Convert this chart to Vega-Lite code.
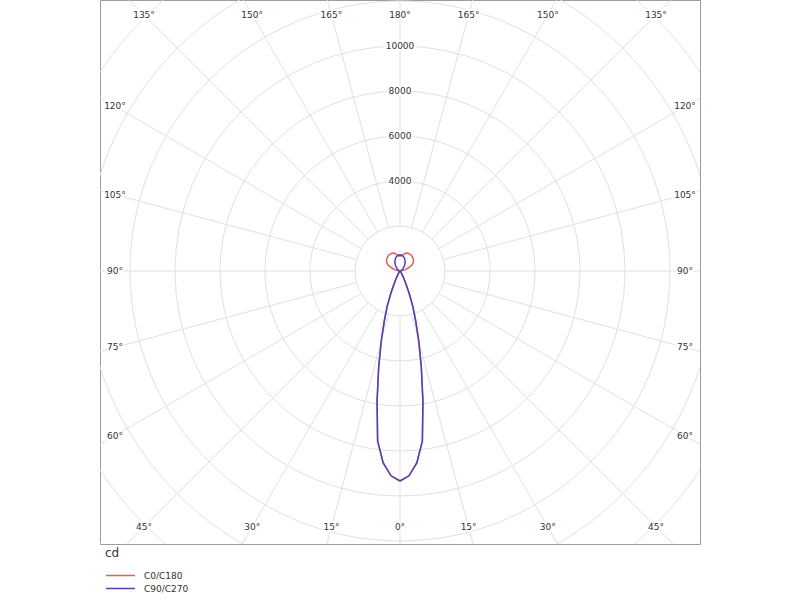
{
  "$schema": "https://vega.github.io/schema/vega-lite/v6.json",
  "width": 600,
  "height": 544,
  "autosize": "none",
  "padding": {"left": 100, "top": 0, "right": 100, "bottom": 56},
  "background": "white",
  "config": {"view": {"stroke": "#9c9c9c", "strokeWidth": 1}, "font": "DejaVu Sans"},
  "datasets": {
    "circles": [{"r": 2000}, {"r": 4000}, {"r": 6000}, {"r": 8000}, {"r": 10000}, {"r": 12000}, {"r": 14000}, {"r": 16000}, {"r": 18000}],
    "spokes": [
      {"x": 2000, "y": 0, "x2": 20000, "y2": 0},
      {"x": 1931.9, "y": 517.6, "x2": 19318.5, "y2": 5176.4},
      {"x": 1732.1, "y": 1000, "x2": 17320.5, "y2": 10000},
      {"x": 1414.2, "y": 1414.2, "x2": 14142.1, "y2": 14142.1},
      {"x": 1000, "y": 1732.1, "x2": 10000, "y2": 17320.5},
      {"x": 517.6, "y": 1931.9, "x2": 5176.4, "y2": 19318.5},
      {"x": 0, "y": 2000, "x2": 0, "y2": 20000},
      {"x": -517.6, "y": 1931.9, "x2": -5176.4, "y2": 19318.5},
      {"x": -1000, "y": 1732.1, "x2": -10000, "y2": 17320.5},
      {"x": -1414.2, "y": 1414.2, "x2": -14142.1, "y2": 14142.1},
      {"x": -1732.1, "y": 1000, "x2": -17320.5, "y2": 10000},
      {"x": -1931.9, "y": 517.6, "x2": -19318.5, "y2": 5176.4},
      {"x": -2000, "y": 0, "x2": -20000, "y2": 0},
      {"x": -1931.9, "y": -517.6, "x2": -19318.5, "y2": -5176.4},
      {"x": -1732.1, "y": -1000, "x2": -17320.5, "y2": -10000},
      {"x": -1414.2, "y": -1414.2, "x2": -14142.1, "y2": -14142.1},
      {"x": -1000, "y": -1732.1, "x2": -10000, "y2": -17320.5},
      {"x": -517.6, "y": -1931.9, "x2": -5176.4, "y2": -19318.5},
      {"x": 0, "y": -2000, "x2": 0, "y2": -20000},
      {"x": 517.6, "y": -1931.9, "x2": 5176.4, "y2": -19318.5},
      {"x": 1000, "y": -1732.1, "x2": 10000, "y2": -17320.5},
      {"x": 1414.2, "y": -1414.2, "x2": 14142.1, "y2": -14142.1},
      {"x": 1732.1, "y": -1000, "x2": 17320.5, "y2": -10000},
      {"x": 1931.9, "y": -517.6, "x2": 19318.5, "y2": -5176.4}
    ],
    "curves": [
      {"s": "C0/C180", "i": 1, "x": 0, "y": -9333},
      {"s": "C0/C180", "i": 2, "x": 397, "y": -9101},
      {"s": "C0/C180", "i": 3, "x": 747, "y": -8532},
      {"s": "C0/C180", "i": 4, "x": 995, "y": -7555},
      {"s": "C0/C180", "i": 5, "x": 1019, "y": -5778},
      {"s": "C0/C180", "i": 6, "x": 947, "y": -4269},
      {"s": "C0/C180", "i": 7, "x": 834, "y": -3112},
      {"s": "C0/C180", "i": 8, "x": 694, "y": -2200},
      {"s": "C0/C180", "i": 9, "x": 566, "y": -1555},
      {"s": "C0/C180", "i": 10, "x": 396, "y": -956},
      {"s": "C0/C180", "i": 11, "x": 244, "y": -524},
      {"s": "C0/C180", "i": 12, "x": 162, "y": -310},
      {"s": "C0/C180", "i": 13, "x": 105, "y": -182},
      {"s": "C0/C180", "i": 14, "x": 46, "y": -66},
      {"s": "C0/C180", "i": 15, "x": 23, "y": -27},
      {"s": "C0/C180", "i": 16, "x": 9, "y": -8},
      {"s": "C0/C180", "i": 17, "x": 0, "y": 0},
      {"s": "C0/C180", "i": 18, "x": 40, "y": 4},
      {"s": "C0/C180", "i": 19, "x": 113, "y": 20},
      {"s": "C0/C180", "i": 20, "x": 232, "y": 62},
      {"s": "C0/C180", "i": 21, "x": 367, "y": 133},
      {"s": "C0/C180", "i": 22, "x": 489, "y": 228},
      {"s": "C0/C180", "i": 23, "x": 572, "y": 330},
      {"s": "C0/C180", "i": 24, "x": 602, "y": 422},
      {"s": "C0/C180", "i": 25, "x": 594, "y": 498},
      {"s": "C0/C180", "i": 26, "x": 573, "y": 573},
      {"s": "C0/C180", "i": 27, "x": 540, "y": 644},
      {"s": "C0/C180", "i": 28, "x": 493, "y": 705},
      {"s": "C0/C180", "i": 29, "x": 435, "y": 753},
      {"s": "C0/C180", "i": 30, "x": 368, "y": 789},
      {"s": "C0/C180", "i": 31, "x": 291, "y": 799},
      {"s": "C0/C180", "i": 32, "x": 207, "y": 773},
      {"s": "C0/C180", "i": 33, "x": 127, "y": 719},
      {"s": "C0/C180", "i": 34, "x": 59, "y": 677},
      {"s": "C0/C180", "i": 35, "x": 0, "y": 660},
      {"s": "C0/C180", "i": 36, "x": -59, "y": 677},
      {"s": "C0/C180", "i": 37, "x": -127, "y": 719},
      {"s": "C0/C180", "i": 38, "x": -207, "y": 773},
      {"s": "C0/C180", "i": 39, "x": -291, "y": 799},
      {"s": "C0/C180", "i": 40, "x": -368, "y": 789},
      {"s": "C0/C180", "i": 41, "x": -435, "y": 753},
      {"s": "C0/C180", "i": 42, "x": -493, "y": 705},
      {"s": "C0/C180", "i": 43, "x": -540, "y": 644},
      {"s": "C0/C180", "i": 44, "x": -573, "y": 573},
      {"s": "C0/C180", "i": 45, "x": -594, "y": 498},
      {"s": "C0/C180", "i": 46, "x": -602, "y": 422},
      {"s": "C0/C180", "i": 47, "x": -572, "y": 330},
      {"s": "C0/C180", "i": 48, "x": -489, "y": 228},
      {"s": "C0/C180", "i": 49, "x": -367, "y": 133},
      {"s": "C0/C180", "i": 50, "x": -232, "y": 62},
      {"s": "C0/C180", "i": 51, "x": -113, "y": 20},
      {"s": "C0/C180", "i": 52, "x": -40, "y": 4},
      {"s": "C0/C180", "i": 53, "x": 0, "y": 0},
      {"s": "C0/C180", "i": 54, "x": -9, "y": -8},
      {"s": "C0/C180", "i": 55, "x": -23, "y": -27},
      {"s": "C0/C180", "i": 56, "x": -46, "y": -66},
      {"s": "C0/C180", "i": 57, "x": -105, "y": -182},
      {"s": "C0/C180", "i": 58, "x": -162, "y": -310},
      {"s": "C0/C180", "i": 59, "x": -244, "y": -524},
      {"s": "C0/C180", "i": 60, "x": -396, "y": -956},
      {"s": "C0/C180", "i": 61, "x": -566, "y": -1555},
      {"s": "C0/C180", "i": 62, "x": -694, "y": -2200},
      {"s": "C0/C180", "i": 63, "x": -834, "y": -3112},
      {"s": "C0/C180", "i": 64, "x": -947, "y": -4269},
      {"s": "C0/C180", "i": 65, "x": -1019, "y": -5778},
      {"s": "C0/C180", "i": 66, "x": -995, "y": -7555},
      {"s": "C0/C180", "i": 67, "x": -747, "y": -8532},
      {"s": "C0/C180", "i": 68, "x": -397, "y": -9101},
      {"s": "C0/C180", "i": 69, "x": 0, "y": -9333},
      {"s": "C90/C270", "i": 1, "x": 0, "y": -9333},
      {"s": "C90/C270", "i": 2, "x": 397, "y": -9101},
      {"s": "C90/C270", "i": 3, "x": 747, "y": -8532},
      {"s": "C90/C270", "i": 4, "x": 995, "y": -7555},
      {"s": "C90/C270", "i": 5, "x": 1019, "y": -5778},
      {"s": "C90/C270", "i": 6, "x": 947, "y": -4269},
      {"s": "C90/C270", "i": 7, "x": 834, "y": -3112},
      {"s": "C90/C270", "i": 8, "x": 694, "y": -2200},
      {"s": "C90/C270", "i": 9, "x": 566, "y": -1555},
      {"s": "C90/C270", "i": 10, "x": 396, "y": -956},
      {"s": "C90/C270", "i": 11, "x": 244, "y": -524},
      {"s": "C90/C270", "i": 12, "x": 162, "y": -310},
      {"s": "C90/C270", "i": 13, "x": 105, "y": -182},
      {"s": "C90/C270", "i": 14, "x": 46, "y": -66},
      {"s": "C90/C270", "i": 15, "x": 23, "y": -27},
      {"s": "C90/C270", "i": 16, "x": 9, "y": -8},
      {"s": "C90/C270", "i": 17, "x": 0, "y": 0},
      {"s": "C90/C270", "i": 18, "x": 3, "y": 1},
      {"s": "C90/C270", "i": 19, "x": 22, "y": 8},
      {"s": "C90/C270", "i": 20, "x": 42, "y": 19},
      {"s": "C90/C270", "i": 21, "x": 68, "y": 39},
      {"s": "C90/C270", "i": 22, "x": 100, "y": 70},
      {"s": "C90/C270", "i": 23, "x": 134, "y": 113},
      {"s": "C90/C270", "i": 24, "x": 167, "y": 167},
      {"s": "C90/C270", "i": 25, "x": 198, "y": 236},
      {"s": "C90/C270", "i": 26, "x": 219, "y": 312},
      {"s": "C90/C270", "i": 27, "x": 229, "y": 397},
      {"s": "C90/C270", "i": 28, "x": 222, "y": 477},
      {"s": "C90/C270", "i": 29, "x": 202, "y": 554},
      {"s": "C90/C270", "i": 30, "x": 167, "y": 623},
      {"s": "C90/C270", "i": 31, "x": 119, "y": 677},
      {"s": "C90/C270", "i": 32, "x": 62, "y": 709},
      {"s": "C90/C270", "i": 33, "x": 0, "y": 720},
      {"s": "C90/C270", "i": 34, "x": -62, "y": 709},
      {"s": "C90/C270", "i": 35, "x": -119, "y": 677},
      {"s": "C90/C270", "i": 36, "x": -167, "y": 623},
      {"s": "C90/C270", "i": 37, "x": -202, "y": 554},
      {"s": "C90/C270", "i": 38, "x": -222, "y": 477},
      {"s": "C90/C270", "i": 39, "x": -229, "y": 397},
      {"s": "C90/C270", "i": 40, "x": -219, "y": 312},
      {"s": "C90/C270", "i": 41, "x": -198, "y": 236},
      {"s": "C90/C270", "i": 42, "x": -167, "y": 167},
      {"s": "C90/C270", "i": 43, "x": -134, "y": 113},
      {"s": "C90/C270", "i": 44, "x": -100, "y": 70},
      {"s": "C90/C270", "i": 45, "x": -68, "y": 39},
      {"s": "C90/C270", "i": 46, "x": -42, "y": 19},
      {"s": "C90/C270", "i": 47, "x": -22, "y": 8},
      {"s": "C90/C270", "i": 48, "x": -3, "y": 1},
      {"s": "C90/C270", "i": 49, "x": 0, "y": 0},
      {"s": "C90/C270", "i": 50, "x": -9, "y": -8},
      {"s": "C90/C270", "i": 51, "x": -23, "y": -27},
      {"s": "C90/C270", "i": 52, "x": -46, "y": -66},
      {"s": "C90/C270", "i": 53, "x": -105, "y": -182},
      {"s": "C90/C270", "i": 54, "x": -162, "y": -310},
      {"s": "C90/C270", "i": 55, "x": -244, "y": -524},
      {"s": "C90/C270", "i": 56, "x": -396, "y": -956},
      {"s": "C90/C270", "i": 57, "x": -566, "y": -1555},
      {"s": "C90/C270", "i": 58, "x": -694, "y": -2200},
      {"s": "C90/C270", "i": 59, "x": -834, "y": -3112},
      {"s": "C90/C270", "i": 60, "x": -947, "y": -4269},
      {"s": "C90/C270", "i": 61, "x": -1019, "y": -5778},
      {"s": "C90/C270", "i": 62, "x": -995, "y": -7555},
      {"s": "C90/C270", "i": 63, "x": -747, "y": -8532},
      {"s": "C90/C270", "i": 64, "x": -397, "y": -9101},
      {"s": "C90/C270", "i": 65, "x": 0, "y": -9333}
    ],
    "labels": [
      {"t": "180°", "x": 0, "y": 11378},
      {"t": "165°", "x": -3049, "y": 11378},
      {"t": "165°", "x": 3049, "y": 11378},
      {"t": "150°", "x": -6569, "y": 11378},
      {"t": "150°", "x": 6569, "y": 11378},
      {"t": "135°", "x": -11378, "y": 11378},
      {"t": "135°", "x": 11378, "y": 11378},
      {"t": "120°", "x": -12667, "y": 7313},
      {"t": "120°", "x": 12667, "y": 7313},
      {"t": "105°", "x": -12667, "y": 3394},
      {"t": "105°", "x": 12667, "y": 3394},
      {"t": "90°", "x": -12667, "y": 0},
      {"t": "90°", "x": 12667, "y": 0},
      {"t": "75°", "x": -12667, "y": -3394},
      {"t": "75°", "x": 12667, "y": -3394},
      {"t": "60°", "x": -12667, "y": -7313},
      {"t": "60°", "x": 12667, "y": -7313},
      {"t": "45°", "x": -11378, "y": -11378},
      {"t": "45°", "x": 11378, "y": -11378},
      {"t": "30°", "x": -6569, "y": -11378},
      {"t": "30°", "x": 6569, "y": -11378},
      {"t": "15°", "x": -3049, "y": -11378},
      {"t": "15°", "x": 3049, "y": -11378},
      {"t": "0°", "x": 0, "y": -11378},
      {"t": "4000", "x": 0, "y": 4000},
      {"t": "6000", "x": 0, "y": 6000},
      {"t": "8000", "x": 0, "y": 8000},
      {"t": "10000", "x": 0, "y": 10000}
    ]
  },
  "layer": [
    {
      "data": {"name": "circles"},
      "mark": {"type": "arc", "filled": false, "fill": null, "stroke": "#e0e0e0", "strokeWidth": 1, "theta": 0, "theta2": 6.2832, "clip": true},
      "encoding": {
        "x": {"datum": 0, "type": "quantitative", "scale": {"domain": [-13333.33, 13333.33], "nice": false, "zero": false}, "axis": null},
        "y": {"datum": 0, "type": "quantitative", "scale": {"domain": [-12133.33, 12044.44], "nice": false, "zero": false}, "axis": null},
        "radius": {"field": "r", "type": "quantitative", "stack": null, "scale": {"type": "linear", "domain": [0, 10000], "range": [0, 225], "zero": true}}
      }
    },
    {
      "data": {"name": "spokes"},
      "mark": {"type": "rule", "stroke": "#e0e0e0", "strokeWidth": 1, "clip": true},
      "encoding": {
        "x": {"field": "x", "type": "quantitative", "scale": {"domain": [-13333.33, 13333.33], "nice": false, "zero": false}, "axis": null},
        "y": {"field": "y", "type": "quantitative", "scale": {"domain": [-12133.33, 12044.44], "nice": false, "zero": false}, "axis": null},
        "x2": {"field": "x2"},
        "y2": {"field": "y2"}
      }
    },
    {
      "data": {"name": "curves"},
      "mark": {"type": "line", "strokeWidth": 1.5, "clip": true},
      "encoding": {
        "x": {"field": "x", "type": "quantitative", "scale": {"domain": [-13333.33, 13333.33], "nice": false, "zero": false}, "axis": null},
        "y": {"field": "y", "type": "quantitative", "scale": {"domain": [-12133.33, 12044.44], "nice": false, "zero": false}, "axis": null},
        "order": {"field": "i", "type": "quantitative"},
        "color": {
          "field": "s", "type": "nominal",
          "scale": {"domain": ["C0/C180", "C90/C270"], "range": ["#e06060", "#5040c0"]},
          "legend": {
            "title": "cd", "orient": "none", "legendX": 5, "legendY": 548,
            "titleFontSize": 12, "titleFontWeight": "normal", "titleColor": "#333333", "titlePadding": 9,
            "labelFontSize": 9, "labelColor": "#333333", "labelOffset": 8,
            "symbolType": "stroke", "symbolSize": 841, "symbolStrokeWidth": 1.5,
            "clipHeight": 13, "rowPadding": 0
          }
        }
      }
    },
    {
      "data": {"name": "labels"},
      "mark": {"type": "text", "fontSize": 9, "fill": "white", "stroke": "white", "strokeWidth": 4, "align": "center", "baseline": "middle"},
      "encoding": {
        "x": {"field": "x", "type": "quantitative", "scale": {"domain": [-13333.33, 13333.33], "nice": false, "zero": false}, "axis": null},
        "y": {"field": "y", "type": "quantitative", "scale": {"domain": [-12133.33, 12044.44], "nice": false, "zero": false}, "axis": null},
        "text": {"field": "t"}
      }
    },
    {
      "data": {"name": "labels"},
      "mark": {"type": "text", "fontSize": 9, "fill": "#333333", "align": "center", "baseline": "middle"},
      "encoding": {
        "x": {"field": "x", "type": "quantitative", "scale": {"domain": [-13333.33, 13333.33], "nice": false, "zero": false}, "axis": null},
        "y": {"field": "y", "type": "quantitative", "scale": {"domain": [-12133.33, 12044.44], "nice": false, "zero": false}, "axis": null},
        "text": {"field": "t"}
      }
    }
  ]
}
